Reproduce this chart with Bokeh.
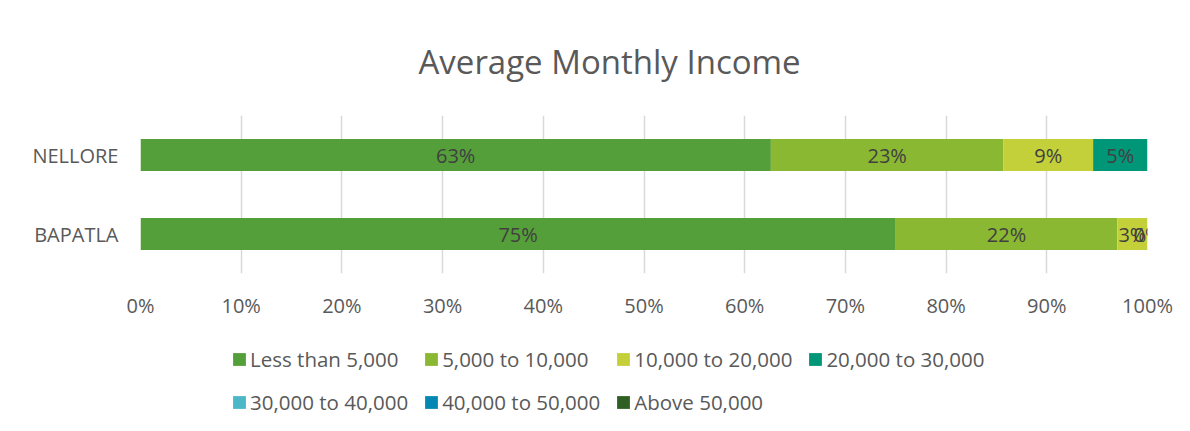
from bokeh.plotting import figure
from bokeh.layouts import column
from bokeh.models import (ColumnDataSource, FactorRange, Range1d, FixedTicker,
                          PrintfTickFormatter, Legend, LegendItem, LabelSet, Title)
from bokeh.core.properties import value
from bokeh.embed import file_html
from bokeh.resources import INLINE

# ---------------- data ----------------
title = "Average Monthly Income"
regions = ["BAPATLA", "NELLORE"]
brackets = ["Less than 5,000", "5,000 to 10,000", "10,000 to 20,000",
            "20,000 to 30,000", "30,000 to 40,000", "40,000 to 50,000",
            "Above 50,000"]
# percentages per region (BAPATLA, NELLORE); None = no data
less_5k = [75.0, 62.6]
k5_10 = [22.0, 23.1]
k10_20 = [3.0, 8.9]
k20_30 = [0.0, 5.4]
k30_40 = [None, None]
k40_50 = [None, None]
above_50k = [None, None]
series = [less_5k, k5_10, k10_20, k20_30, k30_40, k40_50, above_50k]
colors = ["#559F3A", "#8BB833", "#C4D03A", "#009678", "#4BB7C7", "#0587B4", "#2F5F22"]
ticks = list(range(0, 101, 10))

FONT = "Open Sans"
GREY = "#595959"

keys = ["s%d" % i for i in range(len(series))]
data = {"region": regions}
for k, s in zip(keys, series):
    data[k] = [0.0 if v is None else v for v in s]
source = ColumnDataSource(data)

# data labels
lx, ly, lt = [], [], []
for ri, reg in enumerate(regions):
    start = 0.0
    for s in series:
        v = s[ri]
        if v is None:
            continue
        lx.append(start + v / 2.0)
        ly.append(reg)
        lt.append("%d%%" % round(v))
        start += v
lab_src = ColumnDataSource(dict(x=lx, y=ly, t=lt))

# ---------------- main chart ----------------
p = figure(width=1190, height=330, y_range=FactorRange(factors=regions),
           x_range=Range1d(0, 100), output_backend="svg", toolbar_location=None,
           min_border_left=140, min_border_right=43, min_border_top=115,
           min_border_bottom=57)
p.outline_line_color = None

rs = p.hbar_stack(keys, y="region", height=0.405, color=colors, source=source,
                  line_color=None)

labels = LabelSet(x="x", y="y", text="t", source=lab_src, text_align="center",
                  text_baseline="middle", text_font_size="20px",
                  text_color="#404040", text_font=value(FONT))
p.add_layout(labels)

p.xaxis.ticker = FixedTicker(ticks=ticks)
p.xaxis.formatter = PrintfTickFormatter(format="%d%%")
for ax in (p.xaxis, p.yaxis):
    ax.axis_line_color = None
    ax.major_tick_line_color = None
    ax.minor_tick_line_color = None
    ax.major_tick_out = 0
    ax.major_tick_in = 0
    ax.major_label_text_font = FONT
    ax.major_label_text_font_size = "20px"
    ax.major_label_text_color = GREY
p.xaxis.major_label_standoff = 18
p.yaxis.major_label_standoff = 22
p.xgrid.grid_line_color = "#d9d9d9"
p.xgrid.grid_line_width = 1.5
p.ygrid.grid_line_color = None

p.add_layout(Title(text=title, align="left", offset=278, standoff=64,
                   text_font_size="33px", text_font=FONT,
                   text_font_style="normal", text_color=GREY), "above")

# ---------------- legend strip ----------------
lg = figure(width=1190, height=101, x_range=Range1d(0, 1), y_range=Range1d(0, 1),
            output_backend="svg", toolbar_location=None, x_axis_type=None,
            y_axis_type=None, min_border=0)
lg.outline_line_color = None
lg.xgrid.grid_line_color = None
lg.ygrid.grid_line_color = None
# legend swatches (placed outside the visible range of the strip)
dummy = [lg.hbar(y=[-5.0], left=[-5.0], right=[-4.0], height=0.4,
                 fill_color=c, line_color=None) for c in colors]

legend = Legend(items=[LegendItem(label=b, renderers=[r]) for b, r in zip(brackets, dummy)],
                orientation="horizontal", ncols=4, location=(91, 15),
                margin=0, padding=0, spacing=15, label_width=157,
                glyph_width=16, glyph_height=16, label_standoff=3,
                label_text_font=FONT, label_text_font_size="20.5px",
                label_text_color=GREY, border_line_color=None,
                background_fill_alpha=0)
lg.add_layout(legend, "center")

open("out.html", "w").write(file_html(column(p, lg, spacing=0), INLINE))
